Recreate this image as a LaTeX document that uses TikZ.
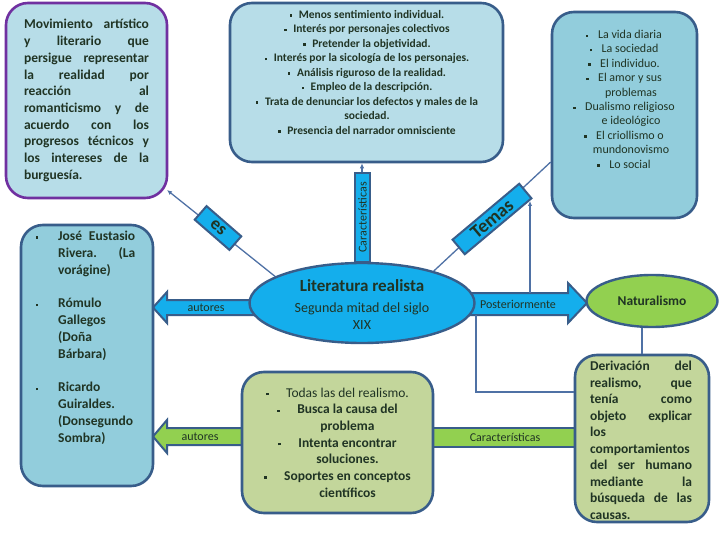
\documentclass[tikz,border=0pt]{standalone}
\usepackage{fontspec}
\setmainfont{Carlito}
\usetikzlibrary{shapes.geometric,arrows.meta,calc}
\definecolor{lb}{RGB}{183,221,232}
\definecolor{mb}{RGB}{146,205,220}
\definecolor{cy}{RGB}{20,174,236}
\definecolor{lg}{RGB}{195,214,155}
\definecolor{gr}{RGB}{146,208,80}
\definecolor{bd}{RGB}{56,93,138}
\definecolor{pu}{RGB}{112,48,160}
\definecolor{ln}{RGB}{79,113,165}
\definecolor{tx}{RGB}{32,52,36}
\newcommand{\sqb}{\raisebox{0.28ex}{\rule{2.4pt}{2.4pt}}}
\newcommand{\bul}[1]{\makebox[#1][l]{\sqb}}
\newcommand{\jline}[2]{\makebox[#1][l]{#2}}
\begin{document}
\begin{tikzpicture}[x=1pt,y=-1pt,
  box/.style={draw=bd, line width=2.6pt, rounded corners=22pt, inner sep=0pt, text=tx},
  ellnode/.style={ellipse, draw=bd, line width=2.4pt, inner sep=0pt, text=tx},
  barrow/.style={draw=bd, line width=2pt, line join=miter},
  lab/.style={inner sep=0pt, text=tx},
  labbox/.style={draw=bd, line width=2pt, fill=cy, inner sep=0pt, text=tx},
  conn/.style={draw=ln, line width=1.3pt},
  tip/.style={-{Latex[length=5pt,width=4.5pt]}}]
\useasboundingbox (0,0) rectangle (720,540);
\fill[white] (0,0) rectangle (720,540);

% block arrows
\path[barrow, fill=cy] (262,300) -- (167,300) -- (167,292) -- (153,307.5) -- (167,323) -- (167,315) -- (262,315) -- cycle;
\path[barrow, fill=gr] (242,428) -- (167,428) -- (167,420) -- (153,436.5) -- (167,453) -- (167,445) -- (242,445) -- cycle;
\path[barrow, fill=cy] (462,293) -- (568,293) -- (568,283) -- (587,303) -- (568,323) -- (568,315) -- (462,315) -- cycle;
\path[barrow, fill=gr] (433,428) rectangle (575,447);

% boxes
\node[box, draw=pu, fill=lb, minimum width=161pt, minimum height=195pt,
  text width=125pt, align=left, font=\fontsize{13.5}{16.7}\selectfont\bfseries] (b1) at (86.5,100.5) {%
\jline{125pt}{Movimiento\hfill artístico}\\
\jline{125pt}{y\hfill literario\hfill que}\\
\jline{125pt}{persigue\hfill representar}\\
\jline{125pt}{la\hfill realidad\hfill por}\\
\jline{125pt}{reacción\hfill al}\\
\jline{125pt}{romanticismo\hfill y\hfill de}\\
\jline{125pt}{acuerdo\hfill con\hfill los}\\
\jline{125pt}{progresos\hfill técnicos\hfill y}\\
\jline{125pt}{los\hfill intereses\hfill de\hfill la}\\
burguesía.};

\node[box, fill=lb, minimum width=273pt, minimum height=159pt] (b2) at (366.5,82.5) {};
\node[lab, anchor=north, align=center, font=\fontsize{11.5}{14.5}\selectfont\bfseries] (t2) at (367,10) {%
\bul{9pt}Menos sentimiento individual.\\
\bul{9pt}Interés por personajes colectivos\\
\bul{9pt}Pretender la objetividad.\\
\bul{9pt}Interés por la sicología de los personajes.\\
\bul{9pt}Análisis riguroso de la realidad.\\
\bul{9pt}Empleo de la descripción.\\
\bul{9pt}Trata de denunciar los defectos y males de la\\
sociedad.\\
\bul{9pt}Presencia del narrador omnisciente};

\node[box, fill=mb, minimum width=145pt, minimum height=206pt] (b3) at (624.5,115) {};
\node[lab, anchor=north, align=center, font=\fontsize{12}{14.4}\selectfont] (t3) at (624,30) {%
\bul{12pt}La vida diaria\\
\bul{12pt}La sociedad\\
\bul{12pt}El individuo.\\
\bul{12pt}El amor y sus\\
\hspace*{14pt}problemas\\
\bul{12pt}Dualismo religioso\\
\hspace*{14pt}e ideológico\\
\bul{12pt}El criollismo o\\
\hspace*{14pt}mundonovismo\\
\bul{12pt}Lo social};

\node[box, fill=mb, minimum width=132pt, minimum height=261pt] (b4) at (87,355.5) {};
\node[lab, anchor=north west, text width=110pt, align=left, font=\fontsize{13.5}{16.8}\selectfont\bfseries] (t4) at (35.5,231) {%
\bul{22.5pt}\jline{77pt}{José\hfill Eustasio}\\
\hspace*{22.5pt}\jline{77pt}{Rivera.\hfill (La}\\
\hspace*{22.5pt}vorágine)\\
\mbox{}\\
\bul{22.5pt}Rómulo\\
\hspace*{22.5pt}Gallegos\\
\hspace*{22.5pt}(Doña\\
\hspace*{22.5pt}Bárbara)\\
\mbox{}\\
\bul{22.5pt}Ricardo\\
\hspace*{22.5pt}Guiraldes.\\
\hspace*{22.5pt}(Donsegundo\\
\hspace*{22.5pt}Sombra)};

\node[ellnode, fill=cy, minimum width=225pt, minimum height=80pt] (ell) at (362,303) {};
\node[lab, font=\fontsize{17}{20}\selectfont\bfseries] (lr) at (362,286) {Literatura realista};
\node[lab, align=center, font=\fontsize{14}{17}\selectfont] (sm) at (362,316) {Segunda mitad del siglo\\XIX};

\node[box, fill=lg, minimum width=191pt, minimum height=141pt, align=center,
  font=\fontsize{13.5}{16.7}\selectfont\bfseries] (b5) at (337.5,442.5) {%
{\mdseries\bul{20pt}Todas las del realismo.}\\
\bul{20pt}Busca la causa del\\
\hspace*{20pt}problema\\
\bul{20pt}Intenta encontrar\\
\hspace*{20pt}soluciones.\\
\bul{20pt}Soportes en conceptos\\
\hspace*{20pt}científicos};

\node[ellnode, fill=gr, minimum width=131pt, minimum height=52pt, font=\fontsize{13.5}{16}\selectfont\bfseries] (nat) at (652,301) {Naturalismo};

\node[box, fill=lg, minimum width=134pt, minimum height=167pt] (b6) at (642,438.5) {};
\node[lab, text width=102pt, align=left, font=\fontsize{13.5}{16.5}\selectfont\bfseries] (t6) at (641,440.5) {%
\jline{102pt}{Derivación\hfill del}\\
\jline{102pt}{realismo,\hfill que}\\
\jline{102pt}{tenía\hfill como}\\
\jline{102pt}{objeto\hfill explicar}\\
los\\
comportamientos\\
\jline{102pt}{del\hfill ser\hfill humano}\\
\jline{102pt}{mediante\hfill la}\\
\jline{102pt}{búsqueda\hfill de\hfill las}\\
causas.};

% coordinates
\coordinate (esend) at (167,190);
\coordinate (temend) at ($(b3.west)+(0,47)$);
\coordinate (pt1) at (530,293);
\coordinate (pt2) at (530,201);
\coordinate (dv1) at (476,315);

% connectors
\draw[conn, tip] (ell.163) -- (esend);
\draw[conn, tip] (ell.north) -- (ell.north |- b2.south);
\draw[conn] (ell.24) -- (temend);
\draw[conn, tip] (pt1) -- (pt2);
\draw[conn] (dv1) |- ($(b6.west)+(0,-46.5)$);
\draw[conn] (b6.north) -- (b6.north |- nat.south);

% labels
\node[labbox, minimum width=46pt, minimum height=18pt, rotate=-41, font=\fontsize{18}{18}\selectfont\bfseries] (les) at (218,228) {es};
\node[labbox, minimum width=89pt, minimum height=15pt, rotate=90, font=\fontsize{12}{12}\selectfont] (lcv) at (362.5,217.5) {Características};
\node[labbox, minimum width=87pt, minimum height=19pt, rotate=40, font=\fontsize{19}{19}\selectfont\bfseries] (ltem) at (492,219) {Temas};
\node[lab, font=\fontsize{12}{12}\selectfont] (la1) at (206,308) {autores};
\node[lab, font=\fontsize{12}{12}\selectfont] (la2) at (200,437) {autores};
\node[lab, font=\fontsize{12}{12}\selectfont] (lpo) at (518,304) {Posteriormente};
\node[lab, font=\fontsize{12}{12}\selectfont] (lca) at (505,437.5) {Características};
\end{tikzpicture}
\end{document}
